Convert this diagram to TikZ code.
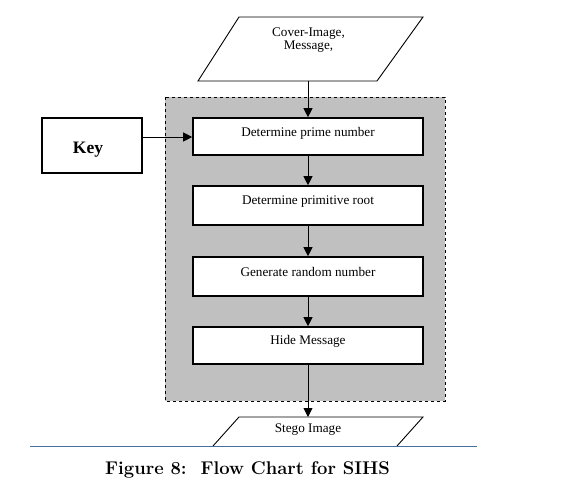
\documentclass[tikz,border=0pt]{standalone}
\usepackage{fontspec}
\setmainfont{Liberation Serif}
\newfontfamily\capfont{Latin Modern Roman}
\usetikzlibrary{arrows.meta}
\definecolor{panelgray}{RGB}{192,192,192}
\definecolor{ruleblue}{RGB}{70,110,160}
\tikzset{
  stepbox/.style={draw=black, line width=1.6pt, fill=white, minimum width=230pt, minimum height=38pt, inner sep=0pt},
  boxtext/.style={font=\fontsize{13.2}{13.5}\selectfont, inner sep=0pt},
  flow/.style={draw=black, line width=0.8pt, -{Triangle[length=9pt,width=9pt]}},
  ioshape/.style={draw=black, line width=0.9pt, fill=white}
}
\begin{document}
\begin{tikzpicture}[x=1pt,y=-1pt]
\useasboundingbox (0,0) rectangle (563,484);
% gray panel
\draw[dashed, line width=0.6pt, fill=panelgray] (165,97) rectangle (445,401);
% input parallelogram
\draw[ioshape] (239,17) -- (423,17) -- (377,81) -- (198,81) -- cycle;
\node[boxtext, align=center] (cover) at (308.5,40) {Cover-Image,\\Message,};
\coordinate (covbot) at (308,81);
% key
\node[draw=black, line width=1.6pt, minimum width=100pt, minimum height=55pt, inner sep=0pt] (key) at (92,145.5) {};
\node[font=\fontsize{17.5}{18}\selectfont\bfseries, inner sep=0pt] (keytext) at (88,150) {Key};
% steps
\node[stepbox, minimum height=37pt] (p1) at (308,136.5) {};
\node[boxtext] (t1) at ([yshift=3.5pt]p1.center) {Determine prime number};
\node[stepbox, minimum height=39pt] (p2) at (308,205.5) {};
\node[boxtext] (t2) at ([yshift=3.5pt]p2.center) {Determine primitive root};
\node[stepbox, minimum height=39pt] (p3) at (308,276.5) {};
\node[boxtext] (t3) at ([yshift=5pt]p3.center) {Generate random number};
\node[stepbox, minimum height=37pt] (p4) at (308,345.5) {};
\node[boxtext] (t4) at ([yshift=4.5pt]p4.center) {Hide Message};
% output parallelogram (cut by rule)
\draw[ioshape, fill=none] (213,446) -- (239,417) -- (423,417) -- (397,446);
\node[boxtext] (stego) at (308,430) {Stego Image};
\coordinate (stegotop) at (308,417);
% connectors
\draw[flow] (covbot) -- (p1.north);
\draw[flow] (key.east |- 0,137) -- (p1.west |- 0,137);
\draw[flow] (p1.south) -- (p2.north);
\draw[flow] (p2.south) -- (p3.north);
\draw[flow] (p3.south) -- (p4.north);
\draw[flow] (p4.south) -- (stegotop);
% rule and caption
\draw[ruleblue, line width=1pt] (30,446) -- (477,446);
\node[font=\capfont\fontsize{18.4}{20}\selectfont\bfseries, inner sep=0pt] (caption) at (247.5,470) {Figure 8:\ \ Flow Chart for SIHS};
\end{tikzpicture}
\end{document}
